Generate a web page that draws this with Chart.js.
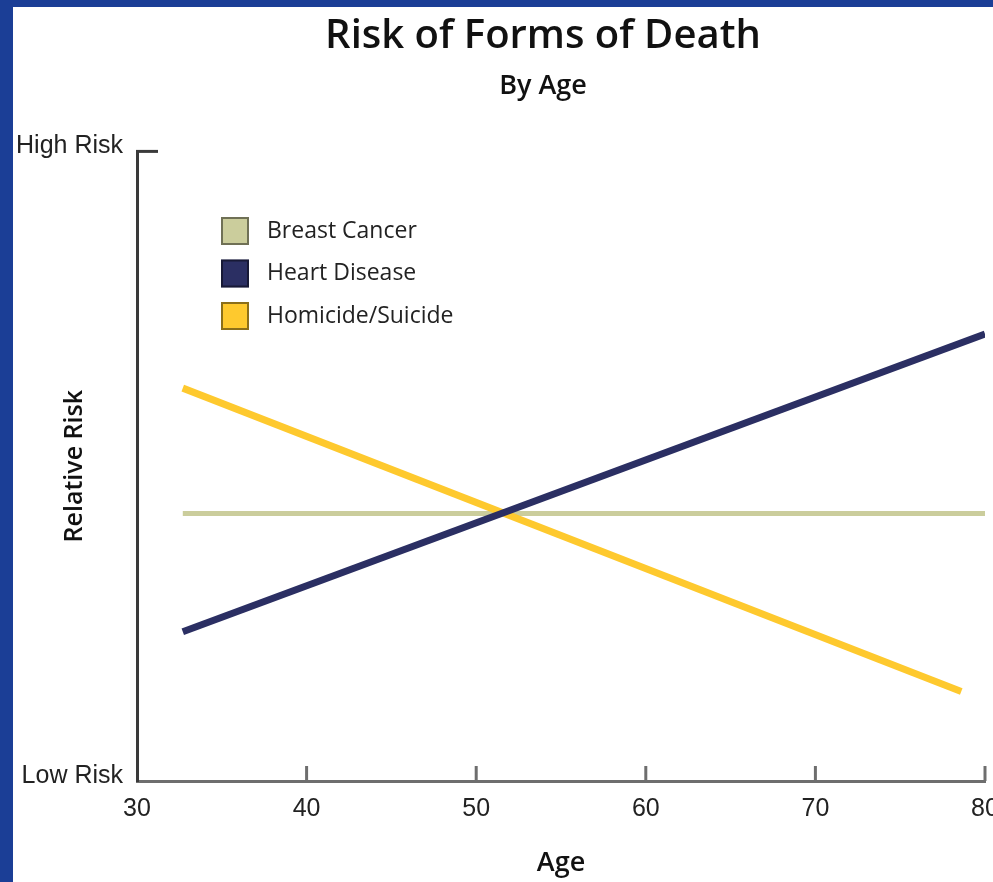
<!DOCTYPE html>
<html>
<head>
<meta charset="utf-8">
<script src="https://cdn.jsdelivr.net/npm/chart.js@4.4.1/dist/chart.umd.min.js"></script>
<style>
  html, body { margin: 0; padding: 0; background: #1b3e96; width: 993px; height: 882px; overflow: hidden; }
  #wrap { position: absolute; left: 13px; top: 7px; width: 980px; height: 875px; background: #fff; }
</style>
</head>
<body>
<div id="wrap"><canvas id="riskChart"></canvas></div>
<script>
// values (risk on a 0-100 scale, Low Risk .. High Risk)
const seriesNames = ['Breast Cancer', 'Heart Disease', 'Homicide/Suicide'];
const breastAges = [32.7, 80];
const breastRisk = [42.5, 42.5];
const heartAges = [32.7, 80];
const heartRisk = [23.7, 71.0];
const homicideAges = [32.7, 78.6];
const homicideRisk = [62.4, 14.2];
const yTickLabels = ['Low Risk', 'High Risk'];

const toPoints = (xs, ys) => xs.map((x, i) => ({ x: x, y: ys[i] }));

const tickFont = { family: 'Liberation Sans', size: 25 };
const xBorder = '#6e6e6e';
const yBorder = '#3a3a3a';

// the title is centred with a left layout padding; stretch the y axis box back to the edge
// so its labels and title are not clipped
const widenYAxis = {
  id: 'widenYAxis',
  afterLayout(chart) {
    const y = chart.scales.y;
    y.left = 0;
    y.width = y.right;
  }
};

// draws the inward tick marks and the legend inside the plot
const decorations = {
  id: 'decorations',
  afterDraw(chart) {
    const { ctx, chartArea, scales } = chart;
    ctx.save();
    ctx.lineWidth = 3;
    ctx.strokeStyle = xBorder;
    scales.x.ticks.forEach(t => {
      if (t.value === scales.x.min) return;
      const px = scales.x.getPixelForValue(t.value);
      ctx.beginPath();
      ctx.moveTo(px, chartArea.bottom);
      ctx.lineTo(px, chartArea.bottom - 15);
      ctx.stroke();
    });
    ctx.strokeStyle = yBorder;
    const topY = scales.y.getPixelForValue(scales.y.max);
    ctx.beginPath();
    ctx.moveTo(chartArea.left - 1, topY);
    ctx.lineTo(chartArea.left + 21, topY);
    ctx.stroke();

    // legend
    const lx = 208, ly = 224, gap = 42.5, box = 28;
    ctx.font = '23px "Open Sans"';
    ctx.textBaseline = 'middle';
    ctx.textAlign = 'left';
    chart.data.datasets.forEach((ds, i) => {
      const cy = ly + i * gap;
      ctx.fillStyle = ds.borderColor;
      ctx.fillRect(lx, cy - box / 2, box, box);
      ctx.lineWidth = 2;
      ctx.strokeStyle = 'rgba(0,0,0,0.45)';
      ctx.strokeRect(lx + 1, cy - box / 2 + 1, box - 2, box - 2);
      ctx.fillStyle = '#222';
      ctx.fillText(ds.label, lx + box + 18, cy);
    });
    ctx.restore();
  }
};

new Chart(document.getElementById('riskChart'), {
  type: 'line',
  data: {
    datasets: [
      { label: seriesNames[0], data: toPoints(breastAges, breastRisk), borderColor: '#cbcd9c', borderWidth: 5, order: 2 },
      { label: seriesNames[1], data: toPoints(heartAges, heartRisk), borderColor: '#2b2f63', borderWidth: 7, order: 0 },
      { label: seriesNames[2], data: toPoints(homicideAges, homicideRisk), borderColor: '#fec92e', borderWidth: 7, order: 1 }
    ]
  },
  options: {
    responsive: true,
    maintainAspectRatio: false,
    animation: false,
    datasets: { line: { pointRadius: 0, borderCapStyle: 'butt', tension: 0, fill: false } },
    layout: { padding: { left: 80, right: 0, top: 0, bottom: 0 } },
    plugins: {
      legend: { display: false },
      tooltip: { enabled: false },
      title: {
        display: true,
        text: 'Risk of Forms of Death',
        color: '#111',
        font: { family: 'Open Sans', size: 40, weight: '600', lineHeight: 1.2 },
        padding: { top: 6, bottom: 0 }
      },
      subtitle: {
        display: true,
        text: 'By Age',
        color: '#111',
        font: { family: 'Open Sans', size: 27, weight: '600', lineHeight: 1.2 },
        padding: { top: 9, bottom: 49 }
      }
    },
    scales: {
      x: {
        type: 'linear',
        min: 30,
        max: 80,
        ticks: { stepSize: 10, font: tickFont, color: '#222', padding: 13, maxRotation: 0, autoSkip: false },
        grid: { display: false, drawTicks: false },
        border: { color: xBorder, width: 3 },
        title: {
          display: true,
          text: 'Age',
          color: '#111',
          font: { family: 'Open Sans', size: 27, weight: '600', lineHeight: 1.2 },
          padding: { top: 0, bottom: 2 }
        },
        afterFit: s => { s.height = 101; s.paddingLeft = 0; s.paddingRight = 8; }
      },
      y: {
        min: 0,
        max: 100,
        ticks: {
          stepSize: 100,
          font: tickFont,
          color: '#222',
          padding: 14,
          labelOffset: -5,
          callback: v => yTickLabels[v / 100]
        },
        grid: { display: false, drawTicks: false },
        border: { color: yBorder, width: 3 },
        title: {
          display: true,
          text: 'Relative Risk',
          color: '#111',
          font: { family: 'Open Sans', size: 25, weight: '600', lineHeight: 1.2 },
          padding: { top: 47, bottom: 0 }
        },
        afterFit: s => { s.width = 44; s.paddingTop = 0; s.paddingBottom = 0; }
      }
    }
  },
  plugins: [widenYAxis, decorations]
});
</script>
</body>
</html>
